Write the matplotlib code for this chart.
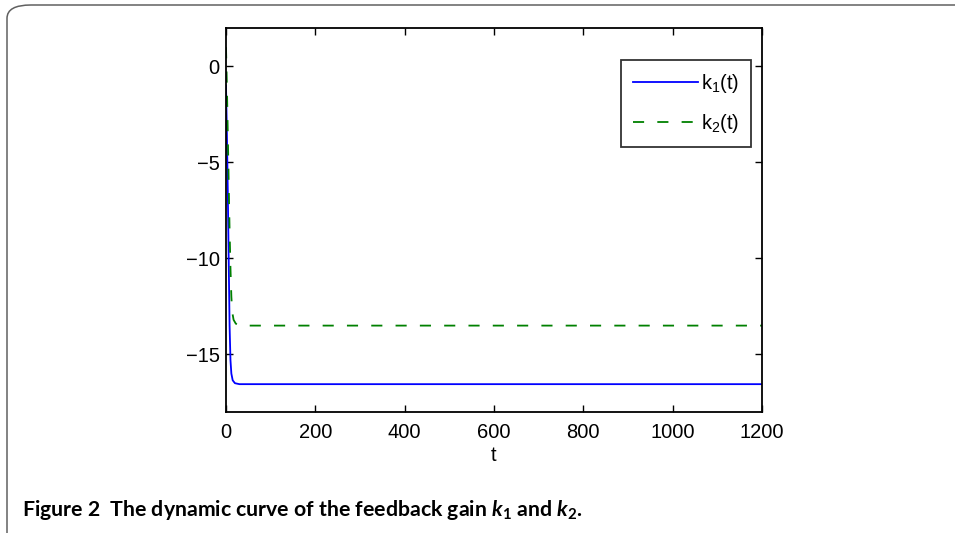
import matplotlib
matplotlib.use("Agg")
import matplotlib.pyplot as plt
from matplotlib.patches import FancyBboxPatch

plt.rcParams['font.family'] = 'Liberation Sans'
plt.rcParams['mathtext.fontset'] = 'custom'
plt.rcParams['mathtext.sf'] = 'Liberation Sans'
plt.rcParams['mathtext.it'] = 'Lato:italic:bold'
plt.rcParams['mathtext.bf'] = 'Lato:bold'
plt.rcParams['lines.scale_dashes'] = False

t1 = [0, 2, 4, 6, 8, 10, 12, 15, 20, 30, 50, 200, 600, 1200]
k1 = [-1.0, -3.5, -6.5, -10.0, -13.5, -15.3, -16.0, -16.35, -16.5,
      -16.55, -16.55, -16.55, -16.55, -16.55]
t2 = [0, 2, 4, 6, 8, 10, 12, 14, 17, 22, 30, 50, 200, 600, 1200]
k2 = [1.0, -1.0, -3.5, -6.0, -8.5, -10.5, -12.0, -12.8, -13.2, -13.4,
      -13.5, -13.5, -13.5, -13.5, -13.5]

xticks = [0, 200, 400, 600, 800, 1000, 1200]
yticks = [-15, -10, -5, 0]

fig = plt.figure(figsize=(9.55, 5.33), dpi=100)
ax = fig.add_axes([226 / 955, 1 - 412 / 533, (762 - 226) / 955, (412 - 28) / 533])

ax.plot(t1, k1, color='#0000ff', lw=1.3, label=r'k$_{\mathsf{1}}$(t)')
ax.plot(t2, k2, color='#008000', lw=1.3, dashes=(8, 9.5), label=r'k$_{\mathsf{2}}$(t)')

ax.set_xlim(0, 1200)
ax.set_ylim(-18, 2)
ax.set_xticks(xticks)
ax.set_yticks(yticks)
ax.set_yticklabels(['\u221215', '\u221210', '\u22125', '0'])
ax.tick_params(direction='in', length=5, width=1.0, labelsize=14.5,
               top=True, right=True)
ax.tick_params(axis='x', pad=8)
ax.tick_params(axis='y', pad=4.5)
for s in ax.spines.values():
    s.set_linewidth(1.3)
ax.set_xlabel('t', fontsize=14.5, labelpad=3)

# legend box in axes fraction: x 618..751, y 60..147 px
leg = ax.legend(loc='upper right', bbox_to_anchor=((751 - 226) / 536, (412 - 60) / 384),
                borderaxespad=0, fontsize=14.5, frameon=True, fancybox=False,
                edgecolor='black', handlelength=3.2, labelspacing=0.85,
                handletextpad=0.15, borderpad=0.6)
leg.get_frame().set_linewidth(1.3)

# rounded journal frame
frame = FancyBboxPatch((7 / 955, -0.05), 1.1, 1 - 5 / 533 + 0.05,
                       boxstyle='round,pad=0,rounding_size=0.025',
                       transform=fig.transFigure, fill=False,
                       edgecolor='#606060', lw=1.1, clip_on=False)
fig.patches.append(frame)

fig.text(22 / 955, 1 - 510 / 533,
         r'Figure 2  The dynamic curve of the feedback gain $k_\mathbf{1}$ and $k_\mathbf{2}$.',
         fontsize=15.3, fontweight='bold', family='Lato', va='center', ha='left')

fig.savefig('out.png', dpi=100)
